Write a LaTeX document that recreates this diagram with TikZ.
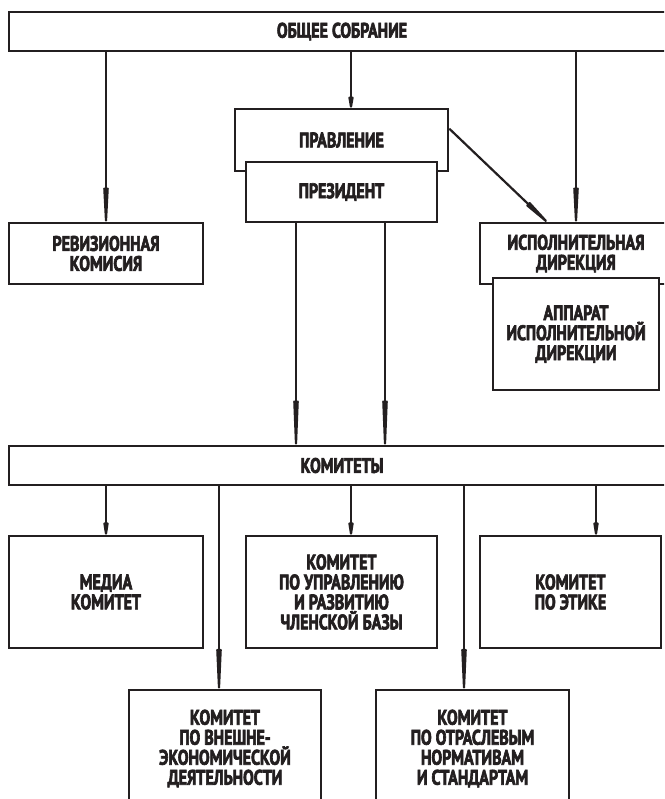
\documentclass[tikz,border=0pt]{standalone}
\usepackage{fontspec}
\setmainfont{PT Sans}[FakeStretch=0.76, BoldFont={PT Sans Bold}, BoldFeatures={FakeStretch=0.76, FakeBold=3}]
\usepackage{tikz}
\usetikzlibrary{calc,arrows.meta}
\definecolor{ink}{HTML}{231F20}
\tikzset{
    box/.style={
        draw=ink,
        line width=2.6pt,
        fill=white,
        align=center,
        inner sep=0pt,
        text=ink,
        font=\bfseries\fontsize{21}{20}\selectfont
    },
    arr/.style={
        draw=ink,
        line width=2.2pt,
        -{Triangle[length=#1, width=5pt, round]}
    },
}

\begin{document}
\begin{tikzpicture}[x=1pt, y=-1pt]
    \useasboundingbox (0, 0) rectangle (664, 799);
    \clip (0, 0) rectangle (664, 799);

    % General meeting
    \node[box, minimum width=666pt, minimum height=39pt] (sobranie) at (342, 31.5) {ОБЩЕЕ СОБРАНИЕ};

    % Board and president
    \node[box, minimum width=213pt, minimum height=62pt] (pravlenie) at (341.5, 140) {ПРАВЛЕНИЕ};
    \node[box, minimum width=191pt, minimum height=60pt] (prezident) at (341.5, 192) {ПРЕЗИДЕНТ};

    % Audit and directorate
    \node[box, minimum width=194pt, minimum height=61pt] (revizia) at (106, 253.5) {РЕВИЗИОННАЯ\\КОМИСИЯ};
    \node[box, minimum width=192pt, minimum height=61pt] (ispoln) at (576, 253.5) {ИСПОЛНИТЕЛЬНАЯ\\ДИРЕКЦИЯ};
    \node[box, minimum width=166pt, minimum height=112pt] (apparat) at (576, 334) {АППАРАТ\\ИСПОЛНИТЕЛЬНОЙ\\ДИРЕКЦИИ};

    % Committees
    \node[box, minimum width=666pt, minimum height=39pt] (komitety) at (342, 465.5) {КОМИТЕТЫ};
    \node[box, minimum width=194pt, minimum height=112pt] (media) at (106, 592) {МЕДИА\\КОМИТЕТ};
    \node[box, minimum width=191pt, minimum height=112pt] (chleny) at (341.5, 592) {КОМИТЕТ\\ПО УПРАВЛЕНИЮ\\И РАЗВИТИЮ\\ЧЛЕНСКОЙ БАЗЫ};
    \node[box, minimum width=181pt, minimum height=112pt] (etika) at (570.5, 592) {КОМИТЕТ\\ПО ЭТИКЕ};
    \node[box, minimum width=192pt, minimum height=117pt] (vneshn) at (225, 748.5) {КОМИТЕТ\\ПО ВНЕШНЕ-\\ЭКОНОМИЧЕСКОЙ\\ДЕЯТЕЛЬНОСТИ};
    \node[box, minimum width=193pt, minimum height=117pt] (otrasl) at (472.5, 748.5) {КОМИТЕТ\\ПО ОТРАСЛЕВЫМ\\НОРМАТИВАМ\\И СТАНДАРТАМ};

    % Arrow ends that sit off the box centres
    \coordinate (pravIn) at ($(pravlenie.north) + (9.5, 0)$);
    \coordinate (pravOut) at ($(pravlenie.north east) + (0, 21)$);
    \coordinate (ispIn) at ($(ispoln.north west) + (68, 0)$);
    \coordinate (prezL) at ($(prezident.south) + (-45.5, 0)$);
    \coordinate (prezR) at ($(prezident.south) + (43.5, 0)$);
    \coordinate (chlIn) at ($(chleny.north) + (9.5, 0)$);
    \coordinate (etiIn) at ($(etika.north) + (25.5, 0)$);
    \coordinate (vneIn) at ($(vneshn.north) + (-6, 0)$);
    \coordinate (otrIn) at ($(otrasl.north) + (-8.5, 0)$);

    % From the general meeting
    \draw[arr=59pt] (sobranie.south -| revizia.north) -- (revizia.north);
    \draw[arr=18pt] (sobranie.south -| pravIn) -- (pravIn);
    \draw[arr=59pt] (sobranie.south -| ispoln.north) -- (ispoln.north);
    \draw[arr=45pt] (pravOut) -- (ispIn);

    % From the president to the committees
    \draw[arr=77pt] (prezL) -- (prezL |- komitety.north);
    \draw[arr=77pt] (prezR) -- (prezR |- komitety.north);

    % From the committees
    \draw[arr=20pt] (komitety.south -| media.north) -- (media.north);
    \draw[arr=20pt] (komitety.south -| chlIn) -- (chlIn);
    \draw[arr=20pt] (komitety.south -| etiIn) -- (etiIn);
    \draw[arr=69pt] (komitety.south -| vneIn) -- (vneIn);
    \draw[arr=69pt] (komitety.south -| otrIn) -- (otrIn);

\end{tikzpicture}
\end{document}
